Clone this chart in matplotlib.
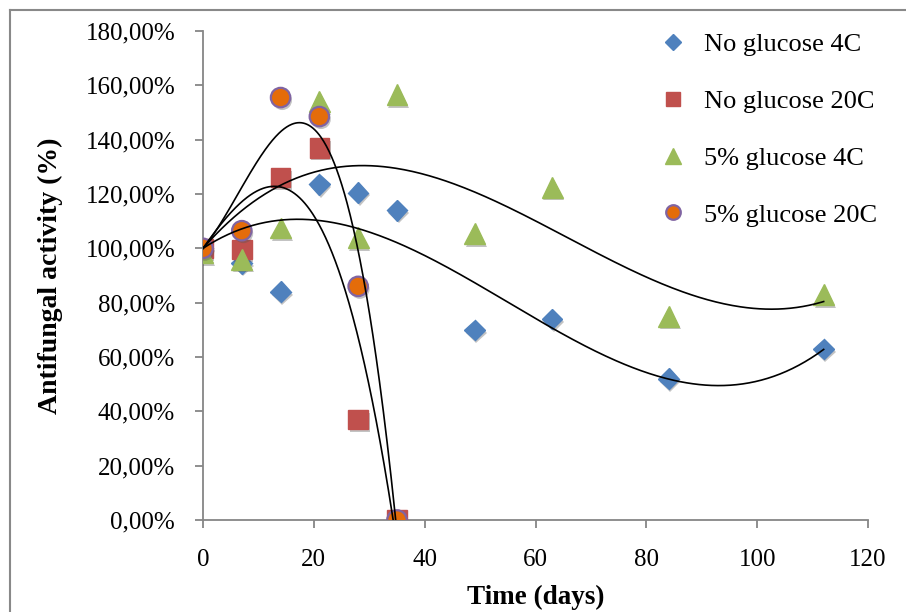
import matplotlib as mpl
mpl.use("Agg")
import matplotlib.pyplot as plt
import matplotlib.patheffects as pe
from matplotlib.lines import Line2D
from matplotlib.ticker import FuncFormatter
import numpy as np

mpl.rcParams.update({
    "font.family": "Liberation Serif", "font.size": 18,
    "axes.linewidth": 1.3, "axes.edgecolor": "#868686",
})

# days of sampling
days_long = [0, 7, 14, 21, 28, 35, 49, 63, 84, 112]
days_short = [0, 7, 14, 21, 28, 35]

# antifungal activity (%)
no_glu_4c = [100, 94.5, 84, 123.5, 120.5, 114, 70, 74, 52, 63]
no_glu_20c = [100, 99.5, 126, 137, 37, 0]
glu5_4c = [98.5, 96, 107.5, 154, 104, 156.5, 105.5, 122.5, 75, 83]
glu5_20c = [100, 106.5, 155.5, 148.5, 86, 0]

labels = ["No glucose 4C", "No glucose 20C", "5% glucose 4C", "5% glucose 20C"]
BLUE, RED, GREEN, ORANGE, PURPLE = "#4F81BD", "#C0504D", "#9BBB59", "#E46C0A", "#8064A2"
INTERCEPT = 100  # trendlines forced through 100% at day 0

fig = plt.figure(figsize=(9.06, 6.12), dpi=100)
ax = fig.add_axes([203 / 906, 92 / 612, 665 / 906, 489 / 612])

shadow = [pe.SimplePatchShadow(offset=(1.2, -2.0), shadow_rgbFace="#555555", alpha=0.35), pe.Normal()]

series = [
    (days_long, no_glu_4c, dict(marker="D", ms=10.5, color=BLUE, mec=BLUE)),
    (days_short, no_glu_20c, dict(marker="s", ms=14, color=RED, mec=RED)),
    (days_long, glu5_4c, dict(marker="^", ms=15, color=GREEN, mec=GREEN)),
    (days_short, glu5_20c, dict(marker="o", ms=14, color=ORANGE, mec=PURPLE, mew=1.6)),
]
handles = []
for (x, y, kw), lab in zip(series, labels):
    ax.plot(x, y, ls="none", zorder=3, path_effects=shadow, **kw)
    handles.append(Line2D([], [], ls="none", **{**kw, "ms": kw["ms"] * 0.75}))

# polynomial (order 3) trendlines with fixed intercept, as in the spreadsheet
for x, y, _ in series:
    xa = np.asarray(x, float)
    A = np.column_stack([xa, xa ** 2, xa ** 3])
    c, *_ = np.linalg.lstsq(A, np.asarray(y, float) - INTERCEPT, rcond=None)
    xs = np.linspace(0, xa.max(), 300)
    ys = INTERCEPT + c[0] * xs + c[1] * xs ** 2 + c[2] * xs ** 3
    ax.plot(xs, ys, color="black", lw=1.2, zorder=4)

ax.set_xlim(0, 120)
ax.set_ylim(0, 180)
ax.set_xticks(range(0, 121, 20))
ax.set_yticks(range(0, 181, 20))
ax.yaxis.set_major_formatter(FuncFormatter(lambda v, p: f"{v:.2f}%".replace(".", ",")))
ax.tick_params(axis="y", length=6, width=1.3, color="#868686", pad=14)
ax.tick_params(axis="x", length=6, width=1.3, color="#868686", pad=15)
ax.spines["top"].set_visible(False)
ax.spines["right"].set_visible(False)
for s in ax.spines.values():
    s.set_zorder(1)
ax.set_xlabel("Time (days)", fontweight="bold", fontsize=19.5, labelpad=10)
ax.set_ylabel("Antifungal activity (%)", fontweight="bold", fontsize=20, labelpad=16)

ax.legend(handles, labels, loc="upper left", bbox_to_anchor=(657 / 906, 1 - 33 / 612),
          bbox_transform=fig.transFigure, frameon=False, handlelength=1.2, fontsize=19,
          handletextpad=0.6, labelspacing=1.26, borderpad=0, borderaxespad=0)

# outer chart-area border (only its left and top edges fall inside the picture)
fig.add_artist(Line2D([9.5 / 906, 9.5 / 906], [0, 1 - 9.5 / 612], color="#898989", lw=1.5,
                      transform=fig.transFigure))
fig.add_artist(Line2D([9.5 / 906, 1], [1 - 9.5 / 612, 1 - 9.5 / 612], color="#898989", lw=1.5,
                      transform=fig.transFigure))

fig.savefig("out.png", dpi=100)
